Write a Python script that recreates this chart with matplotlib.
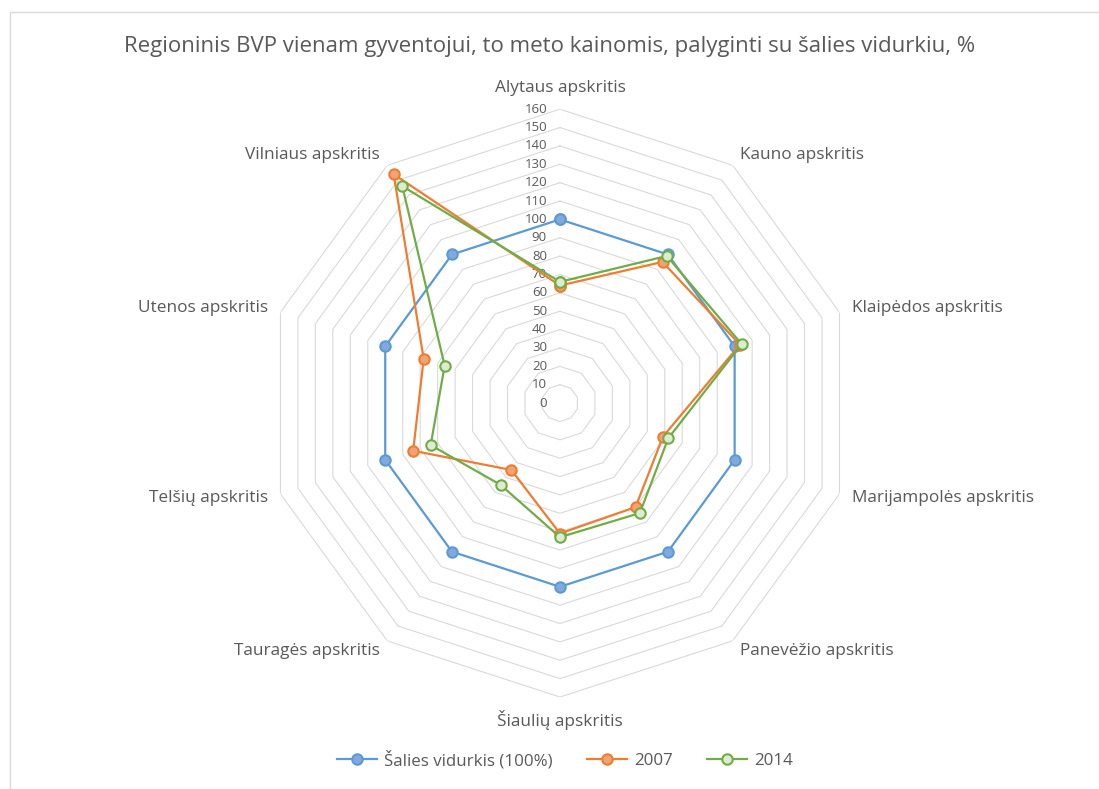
import numpy as np
import matplotlib
matplotlib.use("Agg")
import matplotlib.pyplot as plt
from matplotlib.transforms import offset_copy
from matplotlib.lines import Line2D

plt.rcParams['font.family'] = ['Open Sans', 'DejaVu Sans']

# data
regions = ["Alytaus apskritis", "Kauno apskritis", "Klaipėdos apskritis",
           "Marijampolės apskritis", "Panevėžio apskritis", "Šiaulių apskritis",
           "Tauragės apskritis", "Telšių apskritis", "Utenos apskritis",
           "Vilniaus apskritis"]
vidurkis = [100, 100, 100, 100, 100, 100, 100, 100, 100, 100]
y2007 = [64, 95, 103, 59, 70, 71, 45, 84, 78, 154]
y2014 = [66, 99, 104, 62, 74, 73, 55, 74, 66, 146]
series_names = ["Šalies vidurkis (100%)", "2007", "2014"]
r_ticks = list(range(0, 161, 10))

title = "Regioninis BVP vienam gyventojui, to meto kainomis, palyginti su šalies vidurkiu, %"

line_colors = ["#5B9BD5", "#ED7D31", "#70AD47"]
face_colors = ["#82A9DC", "#F3A274", "#DDEBD1"]
grey = "#595959"

fig = plt.figure(figsize=(10.99, 7.89), dpi=100)
ax = fig.add_axes([0.242, 0.1166, 0.535, 0.745], projection="polar")
ax.set_theta_zero_location("N")
ax.set_theta_direction(-1)
ax.set_ylim(0, 160)
ax.grid(False)
ax.set_xticks([])
ax.set_yticks([])
ax.spines["polar"].set_visible(False)

n = len(regions)
theta = np.linspace(0, 2 * np.pi, n, endpoint=False)
theta_c = np.append(theta, theta[0])

# polygon gridlines
for r in r_ticks[1:]:
    ax.plot(theta_c, [r] * (n + 1), color="#D9D9D9", lw=0.8, zorder=1)

# radial tick labels
trans = offset_copy(ax.transData, fig=fig, x=-13, y=0, units="dots")
for r in r_ticks:
    ax.text(0, r, str(r), transform=trans, ha="right", va="center",
            fontsize=9.5, color=grey, zorder=2)

# series
for vals, lc, fc, name in zip([vidurkis, y2007, y2014], line_colors, face_colors, series_names):
    v = list(vals) + [vals[0]]
    ax.plot(theta_c, v, color=lc, lw=1.6, marker="o", ms=7.5, mfc=fc, mec=lc,
            mew=1.5, zorder=3, label=name, clip_on=False)

# category labels
for t, lab in zip(theta, regions):
    deg = np.degrees(t)
    if np.isclose(deg, 0):
        ha, va = "center", "bottom"
    elif np.isclose(deg, 180):
        ha, va = "center", "top"
    elif deg < 180:
        ha, va = "left", "center"
    else:
        ha, va = "right", "center"
    ax.text(t, 167, lab, ha=ha, va=va, fontsize=12.4, color=grey)

fig.suptitle(title, y=0.955, fontsize=16, color=grey)

handles = [Line2D([0], [0], color=lc, lw=1.6, marker="o", ms=7.5, mfc=fc, mec=lc, mew=1.5)
           for lc, fc in zip(line_colors, face_colors)]
fig.legend(handles, series_names, loc="center", bbox_to_anchor=(0.514, 0.037), ncol=3,
           frameon=False, fontsize=12.2, labelcolor=grey, handlelength=2.4,
           columnspacing=2.0, handletextpad=0.4)

# chart border (top and left)
fig.add_artist(Line2D([10 / 1099, 10 / 1099, 1.0], [0.0, 1 - 12 / 789, 1 - 12 / 789],
                      transform=fig.transFigure, color="#D9D9D9", lw=1))

fig.savefig("out.png", dpi=100, facecolor="white")
